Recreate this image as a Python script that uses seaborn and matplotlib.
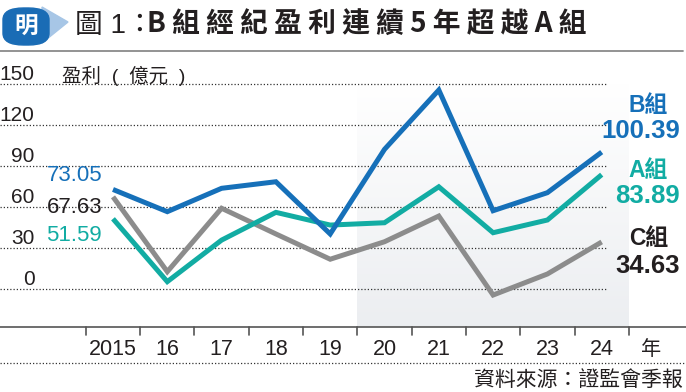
import numpy as np
import pandas as pd
import seaborn as sns
import matplotlib.pyplot as plt
from matplotlib import transforms
from matplotlib.patches import FancyBboxPatch, Polygon

# 數據 (億元)
years = ['2015', '16', '17', '18', '19', '20', '21', '22', '23', '24']
group_b = [73.05, 56.8, 73.9, 78.7, 40.5, 102.4, 145.8, 57.5, 70.7, 100.39]
group_a = [51.59, 5.6, 36.0, 56.3, 47.0, 48.7, 75.0, 41.4, 50.7, 83.89]
group_c = [67.63, 12.9, 59.3, 40.5, 22.0, 34.8, 53.6, -4.2, 11.2, 34.63]
yticks = [0, 30, 60, 90, 120, 150]

blue = '#1670b9'
teal = '#12aca3'
grey = '#8c8c8c'
dark = '#231f20'

sns.set_style('white')
plt.rcParams['font.family'] = ['Liberation Sans', 'Noto Sans CJK TC']

W, H = 686, 392
# pixel layout of the plot
X0, DX = 113, 54.3      # centre of first year, spacing
Y0, SY = 289.3, 1.3667  # pixel of value 0, pixels per unit

fig = plt.figure(figsize=(W / 100, H / 100), dpi=100)
ax = fig.add_axes([0, 0, 1, 1])
ax.axis('off')


def dx(px):
    return (px - X0) / DX


def dy(py):
    return (Y0 - py) / SY


def ftxt(px, py, s, **kw):
    fig.text(px / W, 1 - py / H, s, **kw)


# 陰影區 2020-2024
grad = np.linspace(0, 1, 100)[:, None, None]
top = np.array([1.0, 1.0, 1.0])
bot = np.array([0.925, 0.933, 0.945])
img = top + (bot - top) * grad
ax.imshow(img, extent=[4.5, 9.5, dy(327.3), 150], aspect='auto', origin='upper', zorder=0)

# 格線
ax.hlines(yticks, dx(0), dx(606), colors='#333333', linewidth=0.9,
          linestyles=(0, (1, 1.6)), zorder=1)

df = pd.DataFrame({
    'year': list(range(len(years))) * 3,
    'value': group_c + group_a + group_b,
    'group': ['C'] * len(years) + ['A'] * len(years) + ['B'] * len(years),
})
sns.lineplot(data=df, x='year', y='value', hue='group', hue_order=['C', 'A', 'B'],
             palette={'B': blue, 'A': teal, 'C': grey}, linewidth=3.6,
             legend=False, ax=ax, zorder=3)
for ln in ax.lines:
    ln.set_solid_joinstyle('miter')
    ln.set_solid_capstyle('butt')

ax.set_xlim(dx(0), dx(W))
ax.set_ylim(dy(H), dy(0))
ax.axis('off')

# x 軸
ax.plot([dx(0), dx(W)], [dy(327.3)] * 2, color='#555555', lw=1.2, zorder=2)
for i in range(len(years) + 1):
    ax.plot([i - 0.5] * 2, [dy(327.3), dy(335)], color='#555555', lw=1.2, zorder=2)
for i, lab in enumerate(years):
    ax.text(i, dy(355), lab, ha='center', va='baseline', fontsize=15.5, color=dark)
ax.text(dx(651), dy(355), '年', ha='center', va='baseline', fontsize=14.5, color=dark)

# y 軸刻度
tr = transforms.blended_transform_factory(fig.transFigure, ax.transData)
for v in yticks:
    ax.text(34.5 / W, v + 3.2, str(v), transform=tr, ha='right', va='baseline',
            fontsize=15, color=dark)
ftxt(62, 82, '盈利  (  億元  )', ha='left', va='baseline', fontsize=14, color=dark)

# 起點數值
ftxt(102, 180.7, f'{group_b[0]:.2f}', ha='right', va='baseline', fontsize=16, color=blue)
ftxt(102, 213.3, f'{group_c[0]:.2f}', ha='right', va='baseline', fontsize=16, color=dark)
ftxt(102, 240.7, f'{group_a[0]:.2f}', ha='right', va='baseline', fontsize=16, color=teal)

# 終點標籤
for name, vals, col, y1, y2 in [('B組', group_b, blue, 111.7, 138.3),
                                ('A組', group_a, teal, 177, 203.3),
                                ('C組', group_c, dark, 245, 272.7)]:
    ftxt(668, y1, name, ha='right', va='baseline', fontsize=16.5, fontweight='bold', color=col)
    ftxt(680, y2, f'{vals[-1]:.2f}', ha='right', va='baseline', fontsize=18.5,
         fontweight='bold', color=col)

# 標題
fig.add_artist(Polygon([(42 / W, 1 - 7 / H), (68 / W, 1 - 22 / H), (42 / W, 1 - 43 / H)],
                       closed=True, transform=fig.transFigure, color='#a7c6e6', zorder=5))
fig.add_artist(FancyBboxPatch((3 / W, 1 - 45 / H), 46 / W, 37 / H,
                              boxstyle='round,pad=0,rounding_size=0.03',
                              transform=fig.transFigure, color='#1a6cb5', zorder=6))
ftxt(26, 27, '明', ha='center', va='center', fontsize=17, fontweight='bold',
     color='white', style='italic', zorder=7)
ftxt(75, 33.3, '圖 1：', ha='left', va='baseline', fontsize=20, color=dark)
ftxt(147, 33.3, 'B 組 經 紀 盈 利 連 續 5 年 超 越 A 組', ha='left', va='baseline',
     fontsize=20, fontweight='bold', color=dark, family=['Noto Sans CJK TC'])
fig.add_artist(plt.Line2D([0, 683 / W], [1 - 50.5 / H] * 2, color='#8a8a8a', lw=1.3,
                          transform=fig.transFigure))

# 來源
fig.add_artist(plt.Line2D([0, 684 / W], [1 - 362.7 / H] * 2, color='#333333', lw=0.9,
                          linestyle=(0, (1, 1.6)), transform=fig.transFigure))
ftxt(683, 387, '資料來源：證監會季報', ha='right', va='baseline', fontsize=15, color=dark)

fig.savefig('out.png', dpi=100)
